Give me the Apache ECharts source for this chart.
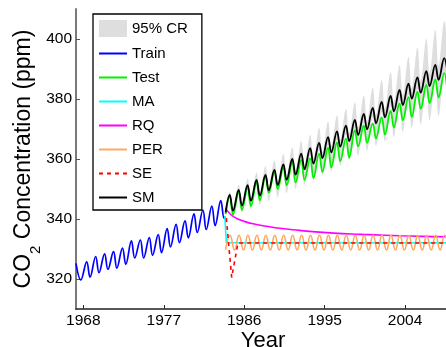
<!DOCTYPE html>
<html><head><meta charset="utf-8">
<script src="https://cdn.jsdelivr.net/npm/echarts@6/dist/echarts.min.js"></script>
<style>html,body{margin:0;padding:0;background:#fff}#c{width:446px;height:347px}</style>
</head><body><div id="c"></div>
<script>
const xTicks = [1968, 1977, 1986, 1995, 2004];
const yTicks = [320, 340, 360, 380, 400];

const trainX = [1967.18, 1967.72, 1968.38, 1968.75, 1969.38, 1969.75, 1970.38, 1970.75, 1971.38, 1971.75, 1972.38, 1972.75, 1973.38, 1973.75, 1974.38, 1974.75, 1975.38, 1975.75, 1976.38, 1976.75, 1977.38, 1977.75, 1978.38, 1978.75, 1979.38, 1979.75, 1980.38, 1980.75, 1981.38, 1981.75, 1982.38, 1982.75, 1983.38, 1983.75, 1983.88];
const trainY = [325.2, 319.7, 325.7, 320.6, 327.5, 322.1, 328.4, 323.2, 329.1, 323.6, 330.3, 324.9, 332.7, 327.0, 333.0, 327.0, 333.8, 327.9, 334.8, 328.8, 336.8, 330.7, 338.2, 332.1, 339.4, 333.7, 341.7, 335.5, 343.0, 336.5, 344.3, 337.8, 346.1, 340.3, 340.8];

const testX = [1983.92, 1984.38, 1984.75, 1985.38, 1985.75, 1986.38, 1986.75, 1987.38, 1987.75, 1988.38, 1988.75, 1989.38, 1989.75, 1990.38, 1990.75, 1991.38, 1991.75, 1992.38, 1992.75, 1993.38, 1993.75, 1994.38, 1994.75, 1995.38, 1995.75, 1996.38, 1996.75, 1997.38, 1997.75, 1998.38, 1998.75, 1999.38, 1999.75, 2000.38, 2000.75, 2001.38, 2001.75, 2002.38, 2002.75, 2003.38, 2003.75, 2004.38, 2004.75, 2005.38, 2005.75, 2006.38, 2006.75, 2007.38, 2007.75, 2008.38, 2008.75];
const testY = [341.6, 347.6, 341.5, 349.0, 343.0, 350.5, 344.3, 352.1, 346.2, 354.3, 348.8, 355.8, 350.0, 357.2, 351.2, 359.2, 352.2, 359.6, 353.0, 360.2, 353.6, 361.8, 355.7, 363.8, 357.2, 365.5, 359.3, 366.8, 360.5, 369.6, 364.2, 371.1, 365.4, 371.9, 366.9, 373.9, 368.1, 376.0, 370.5, 378.5, 372.9, 380.6, 374.0, 382.4, 376.7, 384.7, 378.6, 386.5, 380.5, 388.6, 382.1];

const smX = [1983.92, 1984.38, 1984.75, 1985.38, 1985.75, 1986.38, 1986.75, 1987.38, 1987.75, 1988.38, 1988.75, 1989.38, 1989.75, 1990.38, 1990.75, 1991.38, 1991.75, 1992.38, 1992.75, 1993.38, 1993.75, 1994.38, 1994.75, 1995.38, 1995.75, 1996.38, 1996.75, 1997.38, 1997.75, 1998.38, 1998.75, 1999.38, 1999.75, 2000.38, 2000.75, 2001.38, 2001.75, 2002.38, 2002.75, 2003.38, 2003.75, 2004.38, 2004.75, 2005.38, 2005.75, 2006.38, 2006.75, 2007.38, 2007.75, 2008.38, 2008.75];
const smY = [342.2, 348.0, 342.8, 349.7, 344.5, 351.3, 346.1, 353.0, 347.8, 354.7, 349.6, 356.4, 351.3, 358.2, 353.1, 360.0, 354.8, 361.8, 356.6, 363.6, 358.5, 365.4, 360.3, 367.3, 362.2, 369.2, 364.1, 371.1, 366.0, 373.0, 368.0, 375.0, 369.9, 377.0, 371.9, 379.0, 373.9, 381.0, 375.9, 383.0, 378.0, 385.1, 380.1, 387.2, 382.1, 389.3, 384.3, 391.4, 386.4, 393.6, 388.6];
const crUpper = [342.7, 349.2, 343.3, 351.4, 345.1, 353.4, 346.9, 355.5, 348.7, 357.6, 350.7, 359.6, 352.5, 361.7, 354.5, 363.9, 356.3, 366.0, 358.2, 368.1, 360.3, 370.3, 362.2, 372.5, 364.3, 374.6, 366.3, 376.7, 368.3, 378.9, 370.5, 381.2, 372.5, 383.8, 374.6, 386.3, 376.8, 388.9, 379.1, 391.3, 381.3, 394.1, 383.7, 397.2, 386.1, 400.1, 388.6, 403.0, 391.1, 406.0, 393.8];
const crLower = [341.7, 347.2, 341.1, 348.7, 342.1, 350.2, 343.2, 351.6, 344.6, 353.2, 345.9, 354.7, 347.2, 356.3, 348.6, 357.9, 350.0, 359.5, 351.4, 361.2, 352.9, 362.8, 354.4, 364.6, 355.9, 366.4, 357.7, 368.2, 359.4, 370.0, 361.1, 371.9, 362.7, 373.8, 364.3, 375.7, 365.9, 377.6, 367.3, 379.4, 369.0, 381.4, 370.5, 383.2, 371.5, 385.0, 372.9, 386.8, 374.3, 388.7, 375.6];

const maX = [1983.83, 1984.0, 2008.75];
const maY = [341.0, 332.1, 332.1];

const rqX = [1983.92, 1984.2, 1984.5, 1984.8, 1985.3, 1985.9, 1987.0, 1988.5, 1990.0, 1992.2, 1994.0, 1996.0, 1998.0, 2000.0, 2003.4, 2006.0, 2008.75];
const rqY = [343.5, 342.4, 341.5, 340.8, 340.0, 339.3, 338.4, 337.6, 336.9, 336.2, 335.7, 335.3, 335.0, 334.8, 334.4, 334.2, 334.1];

const perX = [1983.92, 1984.42, 1984.92, 1985.42, 1985.92, 1986.42, 1986.92, 1987.42, 1987.92, 1988.42, 1988.92, 1989.42, 1989.92, 1990.42, 1990.92, 1991.42, 1991.92, 1992.42, 1992.92, 1993.42, 1993.92, 1994.42, 1994.92, 1995.42, 1995.92, 1996.42, 1996.92, 1997.42, 1997.92, 1998.42, 1998.92, 1999.42, 1999.92, 2000.42, 2000.92, 2001.42, 2001.92, 2002.42, 2002.92, 2003.42, 2003.92, 2004.42, 2004.92, 2005.42, 2005.92, 2006.42, 2006.92, 2007.42, 2007.92, 2008.42, 2008.92];
const perY = [329.8, 334.6, 329.7, 334.6, 329.7, 334.6, 329.7, 334.6, 329.7, 334.6, 329.7, 334.6, 329.7, 334.6, 329.7, 334.6, 329.7, 334.6, 329.7, 334.6, 329.7, 334.6, 329.7, 334.6, 329.7, 334.6, 329.7, 334.6, 329.7, 334.6, 329.7, 334.6, 329.7, 334.6, 329.7, 334.6, 329.7, 334.6, 329.7, 334.6, 329.7, 334.6, 329.7, 334.6, 329.7, 334.6, 329.7, 334.6, 329.7, 334.6, 329.7];

const seX = [1984.0, 1984.6, 1985.3, 2008.75];
const seY = [340.3, 320.5, 332.0, 332.0];

const FONT = '"Liberation Sans", Arial, Helvetica, sans-serif';
const pairs = (xs, ys) => xs.map((x, i) => [x, ys[i]]);
const SM_SMOOTH = 0.4;
const CR_COLOR = '#dedede';

const chart = echarts.init(document.getElementById('c'), null, {renderer: 'canvas'});
const lineBase = {type: 'line', symbol: 'none', showSymbol: false, animation: false};

chart.setOption({
  animation: false,
  backgroundColor: '#fff',
  grid: {left: 76, right: 0, top: 9, bottom: 38, containLabel: false, outerBoundsMode: 'none'},
  xAxis: {
    type: 'value', min: 1967.18, max: 2008.58,
    axisLine: {show: true, lineStyle: {color: '#222', width: 1.5}},
    axisTick: {show: true, inside: true, length: 4, customValues: xTicks, lineStyle: {color: '#222', width: 1}},
    axisLabel: {customValues: xTicks, margin: 4, fontSize: 15.5, color: '#000', fontFamily: FONT,
      formatter: v => String(v)},
    splitLine: {show: false},
    name: 'Year', nameLocation: 'middle', nameGap: 21, nameMoveOverlap: false,
    nameTextStyle: {fontSize: 22, color: '#000', fontFamily: FONT, padding: [0, 0, 0, 4]}
  },
  yAxis: {
    type: 'value', min: 310, max: 410,
    axisLine: {show: true, lineStyle: {color: '#7a7a7a', width: 2}},
    axisTick: {show: true, inside: true, length: 4, customValues: yTicks, lineStyle: {color: '#555', width: 1}},
    axisLabel: {customValues: yTicks, margin: 4, fontSize: 15.5, color: '#000', fontFamily: FONT,
      formatter: v => String(v)},
    splitLine: {show: false},
    name: '{a|CO}{b|2}{a| Concentration (ppm)}',
    nameLocation: 'middle', nameRotate: 90, nameGap: 40, nameMoveOverlap: false,
    nameTextStyle: {
      color: '#000', fontFamily: FONT,
      rich: {
        a: {fontSize: 23, color: '#000', fontFamily: FONT, lineHeight: 24},
        b: {fontSize: 15, color: '#000', fontFamily: FONT, lineHeight: 15, padding: [24, 0, 0, 0]}
      }
    }
  },
  legend: {
    orient: 'vertical', left: 93, top: 14,
    padding: [6, 14, 5, 5],
    itemWidth: 28, itemHeight: 17, itemGap: 9,
    backgroundColor: '#fff', borderColor: '#000', borderWidth: 1.3,
    textStyle: {fontSize: 15, color: '#000', fontFamily: FONT},
    itemStyle: {opacity: 0},
    data: [
      {name: '95% CR', icon: 'rect', itemStyle: {opacity: 1, color: CR_COLOR}},
      'Train', 'Test', 'MA', 'RQ', 'PER', 'SE', 'SM'
    ]
  },
  series: [
    {
      type: 'custom', name: '95% CR', coordinateSystem: 'cartesian2d',
      data: [[smX[0], smY[0]]], clip: true, silent: true, z: 1,
      itemStyle: {color: CR_COLOR},
      renderItem: (params, api) => {
        const up = smX.map((x, i) => api.coord([x, crUpper[i]]));
        const lo = smX.map((x, i) => api.coord([x, crLower[i]])).reverse();
        return {
          type: 'group',
          children: [
            {type: 'polygon', shape: {points: up.concat(lo), smooth: SM_SMOOTH}, style: {fill: CR_COLOR}}
          ]
        };
      }
    },
    Object.assign({}, lineBase, {name: 'Train', data: pairs(trainX, trainY), smooth: SM_SMOOTH,
      lineStyle: {color: '#0000ff', width: 1.7}, itemStyle: {color: '#0000ff'}, z: 2}),
    Object.assign({}, lineBase, {name: 'Test', data: pairs(testX, testY), smooth: SM_SMOOTH,
      lineStyle: {color: '#00f000', width: 1.8}, itemStyle: {color: '#00f000'}, z: 2}),
    Object.assign({}, lineBase, {name: 'MA', data: pairs(maX, maY),
      lineStyle: {color: '#00ffff', width: 1.6}, itemStyle: {color: '#00ffff'}, z: 2}),
    Object.assign({}, lineBase, {name: 'RQ', data: pairs(rqX, rqY), smooth: 0.5,
      lineStyle: {color: '#ff00ff', width: 1.6}, itemStyle: {color: '#ff00ff'}, z: 2}),
    Object.assign({}, lineBase, {name: 'PER', data: pairs(perX, perY), smooth: 0.5,
      lineStyle: {color: '#ffa860', width: 1.6}, itemStyle: {color: '#ffa860'}, z: 2}),
    Object.assign({}, lineBase, {name: 'SE', data: pairs(seX, seY),
      lineStyle: {color: '#ff0000', width: 1.6, type: [4, 4]}, itemStyle: {color: '#ff0000'}, z: 2}),
    Object.assign({}, lineBase, {name: 'SM', data: pairs(smX, smY), smooth: SM_SMOOTH,
      lineStyle: {color: '#000000', width: 1.8}, itemStyle: {color: '#000000'}, z: 2})
  ]
});
</script>
</body></html>
